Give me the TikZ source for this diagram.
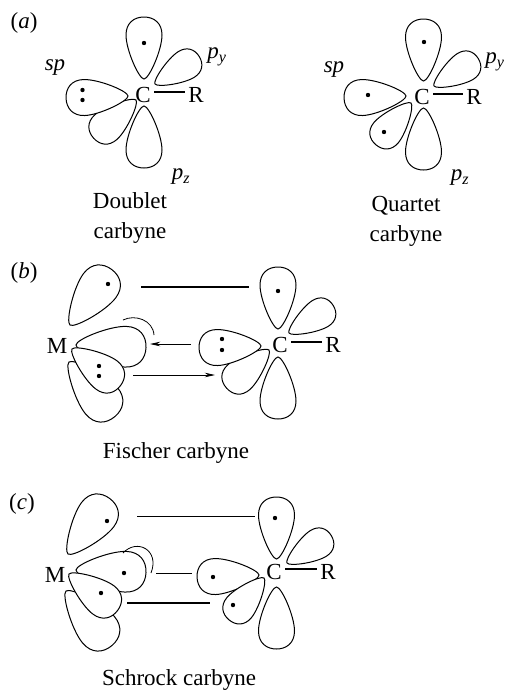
\documentclass[tikz,border=0pt]{standalone}
\usepackage{fontspec}
\setmainfont{Liberation Serif}
\usetikzlibrary{arrows.meta,positioning}
\newcommand{\subi}[1]{\textsubscript{\textit{#1}}}
\tikzset{
  lobe/.pic={
    \draw[line width=1pt, fill=white] (0,0) .. controls (5,0) and (18,-29) .. (18,-44)
      .. controls (18,-56) and (10,-62) .. (0,-62)
      .. controls (-10,-62) and (-18,-56) .. (-18,-44)
      .. controls (-18,-29) and (-5,0) .. (0,0) -- cycle;
  },
}
\begin{document}
\begin{tikzpicture}[
  x=1pt, y=-1pt,
  font=\fontsize{23}{30}\selectfont,
  atom/.style={inner sep=3.5pt},
  lab/.style={inner sep=0pt},
  caption/.style={inner sep=0pt, align=center},
  bond/.style={line width=1.5pt},
  thinbond/.style={line width=1pt},
  arrow/.style={-{Stealth[length=3.6mm,width=1.6mm]}, line width=.8pt},
  hook/.style={line width=.8pt},
]
  \useasboundingbox (0,0) rectangle (506,691);

  % (a) doublet
  \node[lab] (la) at (24,23) {(\textit{a})};
  \pic[rotate=132, scale=.92] at (136,100) {lobe};
  \pic[rotate=92] at (128,96) {lobe};
  \pic at (144,79) {lobe};
  \pic[rotate=180] at (144,106) {lobe};
  \pic[rotate=-58, scale=.84] at (155,84) {lobe};
  \node[atom] (C1) at (143,95) {C};
  \node[atom] (R1) at (196,95) {R};
  \draw[bond] ([yshift=3pt]C1.east) -- ([yshift=3pt]R1.west);
  \node[lab] (sp1) at (55,68) {\textit{sp}};
  \node[lab] (py1) at (217,57) {\textit{p}\subi{y}};
  \node[lab] (pz1) at (181,177) {\textit{p}\subi{z}};
  \node[caption] (doublet) at (130,218) {Doublet\\carbyne};

  % (a) quartet
  \pic[rotate=92] at (406,96) {lobe};
  \pic[rotate=140, scale=.88] at (411,103) {lobe};
  \pic at (423.5,81) {lobe};
  \pic[rotate=180] at (423.5,108) {lobe};
  \pic[rotate=-58, scale=.84] at (434,86) {lobe};
  \node[atom] (C2) at (422,97) {C};
  \node[atom] (R2) at (474,97) {R};
  \draw[bond] ([yshift=3pt]C2.east) -- ([yshift=3pt]R2.west);
  \node[lab] (sp2) at (334,70) {\textit{sp}};
  \node[lab] (py2) at (495,62) {\textit{p}\subi{y}};
  \node[lab] (pz2) at (460,178) {\textit{p}\subi{z}};
  \node[caption] (quartet) at (406,221) {Quartet\\carbyne};

  % (b) fischer
  \node[lab] (lb) at (24,273) {(\textit{b})};
  \pic[rotate=-37, scale=1.12] at (70,325) {lobe};
  \pic[rotate=-140, scale=1.15] at (69,362) {lobe};
  \pic[rotate=-92, scale=1.13] at (76,345) {lobe};
  \pic[rotate=-127, scale=.98] at (72,349) {lobe};
  \node[lab] (M1) at (57,346) {M};
  \pic[rotate=132, scale=.92] at (269,350) {lobe};
  \pic[rotate=92] at (261,346) {lobe};
  \pic at (278,329) {lobe};
  \pic[rotate=180] at (278,357) {lobe};
  \pic[rotate=-58, scale=.84] at (289,333) {lobe};
  \node[atom] (C3) at (280,345) {C};
  \node[atom] (R3) at (333,345) {R};
  \draw[bond] ([yshift=3pt]C3.east) -- ([yshift=3pt]R3.west);
  \coordinate (b1) at (141,287);
  \coordinate (b2) at (249,287);
  \coordinate (b3) at (191,344);
  \coordinate (b4) at (150,344);
  \coordinate (b5) at (133,375);
  \coordinate (b6) at (215,375);
  \coordinate (b7) at (123,320);
  \coordinate (b8) at (154,335);
  \draw[bond] (b1) -- (b2);
  \draw[arrow] (b3) -- (b4);
  \draw[arrow] (b5) -- (b6);
  \draw[hook] (b7) .. controls (135,314) and (153,320) .. (b8);
  \node[caption] (fischer) at (176,453) {Fischer carbyne};

  % (c) schrock
  \node[lab] (lc) at (22,504) {(\textit{c})};
  \pic[rotate=-37, scale=1.12] at (68,554) {lobe};
  \pic[rotate=-140, scale=1.15] at (66,591) {lobe};
  \pic[rotate=-92, scale=1.13] at (76,570) {lobe};
  \pic[rotate=-127, scale=.98] at (69,574) {lobe};
  \node[lab] (M2) at (55,575) {M};
  \pic[rotate=92] at (259,575) {lobe};
  \pic[rotate=140, scale=.88] at (264,578) {lobe};
  \pic at (276.5,559) {lobe};
  \pic[rotate=180] at (276.5,587) {lobe};
  \pic[rotate=-58, scale=.84] at (287,563) {lobe};
  \node[atom] (C4) at (274,572) {C};
  \node[atom] (R4) at (328,572) {R};
  \draw[bond] ([yshift=3pt]C4.east) -- ([yshift=3pt]R4.west);
  \coordinate (c1) at (137,516);
  \coordinate (c2) at (255,516);
  \coordinate (c3) at (156,573);
  \coordinate (c4) at (192,573);
  \coordinate (c5) at (127,603);
  \coordinate (c6) at (210,603);
  \coordinate (c7) at (123,553);
  \coordinate (c8) at (151,573);
  \draw[thinbond] (c1) -- (c2);
  \draw[thinbond] (c3) -- (c4);
  \draw[bond] (c5) -- (c6);
  \draw[hook] (c7) .. controls (137,538) and (160,550) .. (c8);
  \node[caption] (schrock) at (179,680) {Schrock carbyne};

  % electrons
  \foreach \x/\y in {144/43, 82.5/90, 82.5/100, 424/42, 368/95, 384/132,
      108/284, 278/291, 222/339, 222/350, 99/366, 99/376,
      107/521, 275/518, 124/573, 101/593, 213/577, 233/605}
    \fill (\x,\y) circle (2.2);
\end{tikzpicture}
\end{document}
